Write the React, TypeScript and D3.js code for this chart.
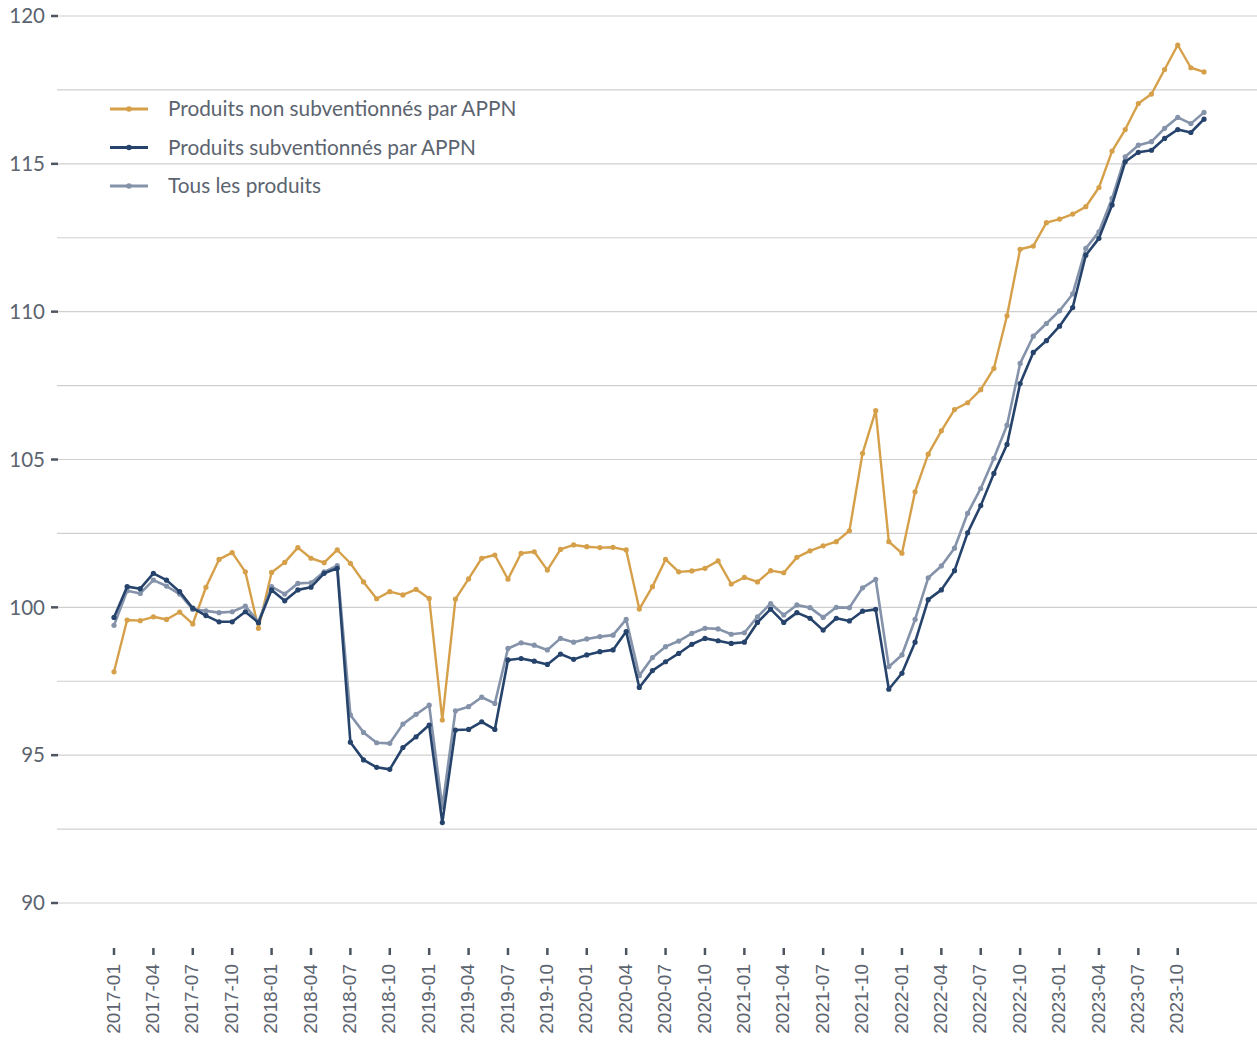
import React from "react";
import * as d3 from "d3";

const startYear = 2017;
const months: string[] = Array.from({ length: 84 }, (_, i) => {
  const y = startYear + Math.floor(i / 12);
  const m = (i % 12) + 1;
  return `${y}-${m < 10 ? "0" + m : m}`;
});

const tickLabels = [
  "2017-01", "2017-04", "2017-07", "2017-10",
  "2018-01", "2018-04", "2018-07", "2018-10",
  "2019-01", "2019-04", "2019-07", "2019-10",
  "2020-01", "2020-04", "2020-07", "2020-10",
  "2021-01", "2021-04", "2021-07", "2021-10",
  "2022-01", "2022-04", "2022-07", "2022-10",
  "2023-01", "2023-04", "2023-07", "2023-10",
];

const yTicks = [90, 95, 100, 105, 110, 115, 120];
const yGrid = [90, 92.5, 95, 97.5, 100, 102.5, 105, 107.5, 110, 112.5, 115, 117.5, 120];

const nonSubventionnes = [
  97.82, 99.57, 99.55, 99.68, 99.59, 99.84, 99.44, 100.68, 101.62, 101.85, 101.2, 99.29,
  101.18, 101.52, 102.02, 101.66, 101.51, 101.94, 101.49, 100.86, 100.29, 100.53, 100.42, 100.61,
  100.3, 96.19, 100.28, 100.96, 101.66, 101.77, 100.95, 101.83, 101.88, 101.26, 101.96, 102.11,
  102.05, 102.02, 102.03, 101.94, 99.94, 100.7, 101.62, 101.2, 101.23, 101.32, 101.57, 100.79,
  101.01, 100.86, 101.24, 101.17, 101.69, 101.91, 102.08, 102.22, 102.59, 105.21, 106.65, 102.22,
  101.83, 103.91, 105.18, 105.97, 106.69, 106.92, 107.36, 108.08, 109.86, 112.11, 112.22, 113.01,
  113.13, 113.3, 113.55, 114.2, 115.43, 116.16, 117.04, 117.36, 118.19, 119.02, 118.25, 118.11,
];

const subventionnes = [
  99.66, 100.7, 100.63, 101.15, 100.92, 100.53, 99.97, 99.72, 99.51, 99.51, 99.85, 99.48,
  100.59, 100.22, 100.59, 100.68, 101.15, 101.32, 95.44, 94.84, 94.59, 94.52, 95.26, 95.62,
  96.02, 92.72, 95.85, 95.87, 96.13, 95.87, 98.22, 98.27, 98.18, 98.07, 98.42, 98.24,
  98.39, 98.5, 98.56, 99.18, 97.29, 97.86, 98.16, 98.44, 98.75, 98.95, 98.87, 98.78,
  98.82, 99.49, 99.94, 99.49, 99.82, 99.63, 99.23, 99.63, 99.54, 99.87, 99.93, 97.23,
  97.77, 98.82, 100.26, 100.59, 101.24, 102.52, 103.44, 104.53, 105.51, 107.57, 108.62, 109.02,
  109.51, 110.14, 111.91, 112.48, 113.61, 115.07, 115.39, 115.46, 115.86, 116.16, 116.06, 116.51,
];

const tousProduits = [
  99.39, 100.56, 100.47, 100.92, 100.72, 100.45, 99.93, 99.88, 99.82, 99.85, 100.04, 99.51,
  100.7, 100.45, 100.81, 100.83, 101.2, 101.41, 96.36, 95.77, 95.42, 95.4, 96.05, 96.38,
  96.69, 93.24, 96.5, 96.64, 96.96, 96.75, 98.61, 98.8, 98.72, 98.56, 98.95, 98.82,
  98.93, 99.01, 99.06, 99.59, 97.69, 98.3, 98.67, 98.86, 99.12, 99.29, 99.27, 99.09,
  99.14, 99.68, 100.13, 99.74, 100.08, 99.99, 99.66, 100.0, 99.99, 100.66, 100.95, 97.99,
  98.39, 99.59, 101.0, 101.4, 102.0, 103.18, 104.02, 105.04, 106.16, 108.25, 109.17, 109.6,
  110.03, 110.6, 112.14, 112.7, 113.83, 115.24, 115.63, 115.75, 116.2, 116.57, 116.36, 116.74,
];

const seriesNames = [
  "Produits non subventionnés par APPN",
  "Produits subventionnés par APPN",
  "Tous les produits",
];

const W = 1257;
const H = 1042;
const ORANGE = "#D5A049";
const NAVY = "#26436C";
const LIGHT = "#8593AA";
const TEXT = "#5c6470";

export default function App() {
  const x = d3.scalePoint<string>().domain(months).range([114, 1204]);
  const y = d3.scaleLinear().domain([90, 120]).range([903, 16]);

  const line = d3
    .line<number>()
    .x((_, i) => x(months[i]) as number)
    .y((d) => y(d));

  const series = [
    { name: seriesNames[0], data: nonSubventionnes, color: ORANGE, width: 2.4 },
    { name: seriesNames[2], data: tousProduits, color: LIGHT, width: 2.6 },
    { name: seriesNames[1], data: subventionnes, color: NAVY, width: 2.6 },
  ];

  const legend = [
    { name: seriesNames[0], color: ORANGE },
    { name: seriesNames[1], color: NAVY },
    { name: seriesNames[2], color: LIGHT },
  ];

  return (
    <svg
      width={W}
      height={H}
      style={{ position: "absolute", left: 0, top: 0, background: "#fff" }}
    >
      {yGrid.map((v) => (
        <line key={"g" + v} x1={57} x2={W} y1={y(v)} y2={y(v)} stroke="#cfcfcf" strokeWidth={1.2} />
      ))}
      {yTicks.map((v) => (
        <g key={"t" + v}>
          <line x1={51} x2={58} y1={y(v)} y2={y(v)} stroke="#4d5560" strokeWidth={2.5} />
          <text
            x={45}
            y={y(v)}
            dy="0.35em"
            textAnchor="end"
            fontFamily="Lato, 'Open Sans', sans-serif"
            fontSize={20.5}
            fill={TEXT}
          >
            {v}
          </text>
        </g>
      ))}
      {tickLabels.map((t) => {
        const xp = x(t) as number;
        return (
          <g key={t}>
            <line x1={xp} x2={xp} y1={948} y2={955} stroke="#4d5560" strokeWidth={2.5} />
            <text
              transform={`translate(${xp - 1},${964}) rotate(-90)`}
              dy="0.35em"
              textAnchor="end"
              fontFamily="'Liberation Sans', Arial, sans-serif"
              fontSize={19}
              fill={TEXT}
            >
              {t}
            </text>
          </g>
        );
      })}
      {series.map((s) => (
        <g key={s.name}>
          <path d={line(s.data) || ""} fill="none" stroke={s.color} strokeWidth={s.width} strokeLinejoin="round" />
          {s.data.map((d, i) => (
            <circle key={i} cx={x(months[i]) as number} cy={y(d)} r={2.6} fill={s.color} />
          ))}
        </g>
      ))}
      {legend.map((l, i) => {
        const ly = 109 + i * 38.5;
        return (
          <g key={l.name}>
            <line x1={110} x2={148} y1={ly} y2={ly} stroke={l.color} strokeWidth={3} />
            <circle cx={129} cy={ly} r={2.8} fill={l.color} />
            <text
              x={168}
              y={ly}
              dy="0.35em"
              fontFamily="Lato, 'Open Sans', sans-serif"
              fontSize={20.8}
              fill={TEXT}
            >
              {l.name}
            </text>
          </g>
        );
      })}
    </svg>
  );
}
